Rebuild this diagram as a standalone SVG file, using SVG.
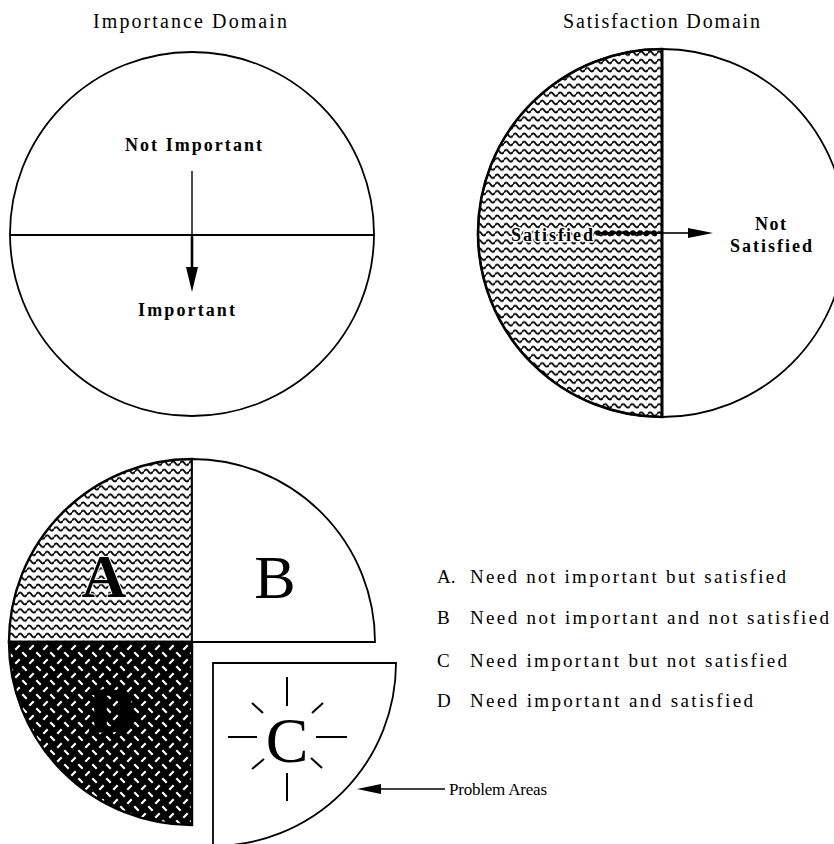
<svg xmlns="http://www.w3.org/2000/svg" width="834" height="844" viewBox="0 0 834 844">
  <style>
    text { font-family: "Liberation Serif", "Times New Roman", serif; fill: #000; }
    .title { font-size: 20px; }
    .lbl { font-size: 18px; font-weight: bold; }
    .leg { font-size: 19px; }
    .small { font-size: 17px; }
    .big { font-size: 62px; }
    .bigc { font-size: 64px; }
    .halo { stroke: #fff; stroke-width: 3; paint-order: stroke; stroke-linejoin: round; }
    .outline { fill: none; stroke: #000; stroke-width: 1.8; }
    .thick { fill: none; stroke: #000; stroke-width: 2.6; }
    .ray { stroke: #000; stroke-width: 2; stroke-linecap: butt; }
    .conn { stroke: #000; fill: none; }
  </style>
  <defs>
    <pattern id="wavy" patternUnits="userSpaceOnUse" width="9" height="8.2">
      <rect width="9" height="8.2" fill="#fff"/>
      <path d="M0,4.1 Q2.25,0.5 4.5,4.1 T9,4.1" fill="none" stroke="#000" stroke-width="1.9"/>
    </pattern>
    <pattern id="plate" patternUnits="userSpaceOnUse" width="14" height="14">
      <rect width="14" height="14" fill="#000"/>
      <g stroke="#fff" stroke-width="2.2" stroke-linecap="butt">
        <line x1="1.3" y1="5.7" x2="5.7" y2="1.3"/>
        <line x1="8.3" y1="8.3" x2="12.7" y2="12.7"/>
      </g>
    </pattern>
  </defs>

  <rect width="834" height="844" fill="#fff"/>

  <!-- Importance Domain -->
  <g id="importance-domain">
    <text class="title" x="93" y="28" textLength="194" lengthAdjust="spacing">Importance Domain</text>
    <circle class="outline" cx="192" cy="234" r="182"/>
    <line class="outline" x1="10" y1="235" x2="374" y2="235"/>
    <text class="lbl" x="125" y="151" textLength="137" lengthAdjust="spacing">Not Important</text>
    <text class="lbl" x="138" y="316" textLength="97" lengthAdjust="spacing">Important</text>
  </g>

  <!-- Satisfaction Domain -->
  <g id="satisfaction-domain">
    <text class="title" x="563" y="28" textLength="197" lengthAdjust="spacing">Satisfaction Domain</text>
    <path d="M662,49 A184,184 0 0,0 662,417 Z" fill="url(#wavy)" stroke="#000" stroke-width="2.6"/>
    <circle class="outline" cx="662" cy="233" r="184"/>
    <line class="thick" x1="662" y1="49" x2="662" y2="417"/>
    <text class="lbl halo" x="511" y="241" textLength="82" lengthAdjust="spacing">Satisfied</text>
    <text class="lbl" x="755" y="230" textLength="31" lengthAdjust="spacing">Not</text>
    <text class="lbl" x="730" y="252" textLength="82" lengthAdjust="spacing">Satisfied</text>
  </g>

  <!-- Quadrants -->
  <g id="quadrant-a">
    <path d="M192,642 L9,642 A183,183 0 0,1 192,459 Z" fill="url(#wavy)" stroke="#000" stroke-width="2.4"/>
    <text class="big halo" x="104" y="597" text-anchor="middle" font-weight="bold" style="stroke-width:2">A</text>
  </g>
  <g id="quadrant-b">
    <path d="M192,642 L192,459 A183,183 0 0,1 375,642 Z" fill="#fff" stroke="#000" stroke-width="1.8"/>
    <text class="big" x="275" y="598" text-anchor="middle">B</text>
  </g>
  <g id="quadrant-d">
    <path d="M192,642 L192,825 A183,183 0 0,1 9,642 Z" fill="url(#plate)" stroke="#000" stroke-width="2.4"/>
    <text class="big" x="112" y="731" text-anchor="middle" style="stroke:#000;stroke-width:3" font-weight="bold">D</text>
  </g>
  <g id="quadrant-c">
    <path d="M213,663 L396,663 A183,183 0 0,1 213,846 Z" fill="#fff" stroke="#000" stroke-width="1.8"/>
    <text class="bigc" x="287" y="762" text-anchor="middle">C</text>
    <g class="ray">
      <line x1="287" y1="677" x2="287" y2="706"/>
      <line x1="287" y1="773" x2="287" y2="801"/>
      <line x1="228" y1="737" x2="257" y2="737"/>
      <line x1="316" y1="737" x2="347" y2="737"/>
      <line x1="252" y1="703" x2="263" y2="713"/>
      <line x1="323" y1="703" x2="312" y2="713"/>
      <line x1="252" y1="769" x2="264" y2="759"/>
      <line x1="322" y1="768" x2="311" y2="758"/>
    </g>
  </g>

  <!-- Legend -->
  <g id="legend">
    <text class="leg" x="437" y="583">A.</text>
    <text class="leg" x="470" y="583" textLength="316" lengthAdjust="spacing">Need not important but satisfied</text>
    <text class="leg" x="437" y="624">B</text>
    <text class="leg" x="470" y="624" textLength="359" lengthAdjust="spacing">Need not important and not satisfied</text>
    <text class="leg" x="437" y="667">C</text>
    <text class="leg" x="470" y="667" textLength="317" lengthAdjust="spacing">Need important but not satisfied</text>
    <text class="leg" x="437" y="707">D</text>
    <text class="leg" x="470" y="707" textLength="283" lengthAdjust="spacing">Need important and satisfied</text>
  </g>

  <g id="problem-areas-label">
    <text class="small" x="449" y="795" textLength="98" lengthAdjust="spacing">Problem Areas</text>
  </g>

  <!-- Connectors -->
  <g id="connectors">
    <line class="conn" x1="192" y1="171" x2="192" y2="235" stroke-width="1.4"/>
    <line class="conn" x1="192" y1="235" x2="192" y2="268" stroke-width="2.6"/>
    <polygon points="186,267 198,267 192,292" fill="#000"/>

    <g fill="#000">
      <circle cx="598" cy="233" r="2.8"/>
      <circle cx="605" cy="233" r="2.8"/>
      <circle cx="612" cy="233" r="2.8"/>
      <circle cx="619" cy="233" r="2.8"/>
      <circle cx="626" cy="233" r="2.8"/>
      <circle cx="633" cy="233" r="2.8"/>
      <circle cx="640" cy="233" r="2.8"/>
      <circle cx="647" cy="233" r="2.8"/>
      <circle cx="654" cy="233" r="2.8"/>
    </g>
    <line class="conn" x1="598" y1="233" x2="662" y2="233" stroke-width="2"/>
    <line class="conn" x1="662" y1="233" x2="690" y2="233" stroke-width="1.6"/>
    <polygon points="688,228 713,233 688,238" fill="#000"/>

    <line class="conn" x1="378" y1="789" x2="445" y2="789" stroke-width="1.5"/>
    <polygon points="357,789 381,784 381,794" fill="#000"/>
  </g>
</svg>
